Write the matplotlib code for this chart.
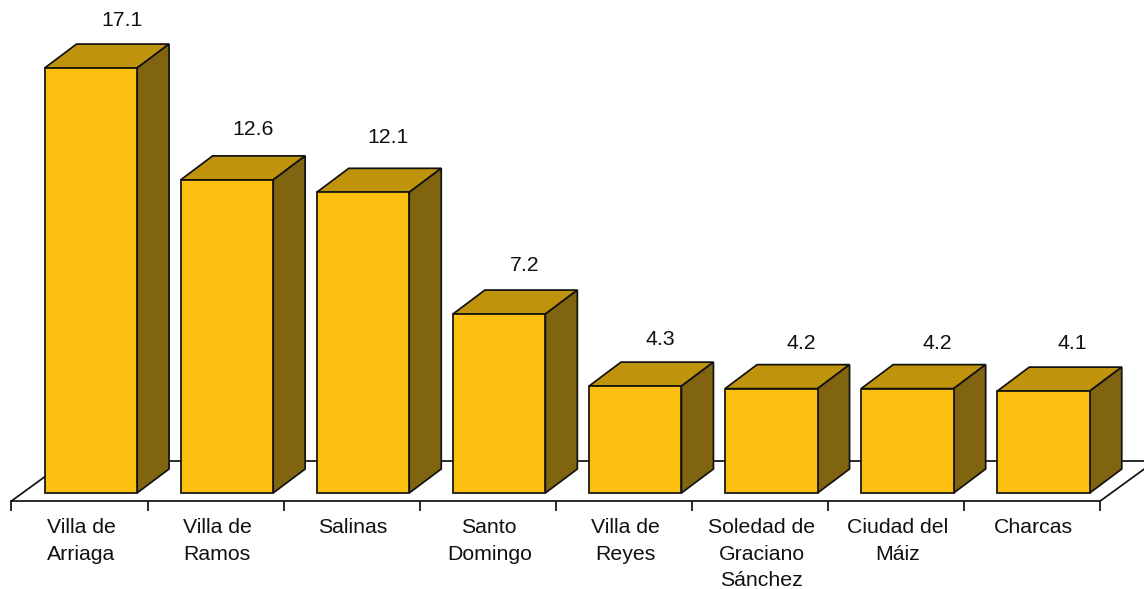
import numpy as np
import matplotlib
matplotlib.use("Agg")
import matplotlib.pyplot as plt
from matplotlib.patches import Polygon

plt.rcParams['font.family'] = ['Liberation Sans', 'DejaVu Sans']

# municipios and their values
municipios = ['Villa de\nArriaga', 'Villa de\nRamos', 'Salinas', 'Santo\nDomingo', 'Villa de\nReyes',
              'Soledad de\nGraciano\nSánchez', 'Ciudad del\nMáiz', 'Charcas']
valores = [17.1, 12.6, 12.1, 7.2, 4.3, 4.2, 4.2, 4.1]

W, H = 1144, 589
step_px = 136.1   # px per category
unit_px = 24.85   # px per unit of value
x0_px = 90.8      # centre of first bar
y0_px = 493       # baseline, from top of image

fig = plt.figure(figsize=(W / 100, H / 100), dpi=100)
ax = fig.add_axes([0, 0, 1, 1])
ax.set_xlim(-x0_px / step_px, (W - x0_px) / step_px)
ax.set_ylim(-(H - y0_px) / unit_px, y0_px / unit_px)
ax.axis('off')

bar_w = 92.5 / step_px
dx = 32 / step_px   # 3d depth
dy = 24 / unit_px
edge = '#111111'
lw = 1.25

# floor
floor_front = -8 / unit_px
floor_back = 32 / unit_px
floor_l = -0.583
floor_r = floor_l + len(valores)
floor_dx = 55 / step_px
ax.plot([floor_l, floor_l + floor_dx], [floor_front, floor_back], color=edge, lw=lw, zorder=1)
ax.plot([floor_l + floor_dx, floor_r + floor_dx], [floor_back, floor_back], color=edge, lw=lw, zorder=1)
ax.plot([floor_r, floor_r + floor_dx], [floor_front, floor_back], color=edge, lw=lw, zorder=1)
ax.plot([floor_l, floor_r], [floor_front, floor_front], color=edge, lw=lw, zorder=1)

# ticks under the floor
ax.vlines(floor_l + np.arange(len(valores) + 1), floor_front - 10 / unit_px, floor_front, color=edge, lw=lw, zorder=1)

# bars, front face then top and side
xs = np.arange(len(valores))
ax.bar(xs, valores, width=bar_w, color='#FDC010', edgecolor=edge, linewidth=lw, zorder=3)
for x, v in zip(xs, valores):
    l, r = x - bar_w / 2, x + bar_w / 2
    ax.add_patch(Polygon([(l, v), (r, v), (r + dx, v + dy), (l + dx, v + dy)],
                         facecolor='#BF930C', edgecolor=edge, lw=lw, zorder=2))
    ax.add_patch(Polygon([(r, 0), (r + dx, dy), (r + dx, v + dy), (r, v)],
                         facecolor='#80640F', edgecolor=edge, lw=lw, zorder=2))

# value labels sit a bit off the bar, not quite evenly
nudge_x = [31, 26, 25, 26, 25, 30, 30, 29]
nudge_y = [48, 50, 55, 49, 47, 45, 45, 48]
for x, v, nx, ny in zip(xs, valores, nudge_x, nudge_y):
    ax.text(x + nx / step_px, v + ny / unit_px, f'{v:.1f}', ha='center', va='center',
            fontsize=15.3, color='#111111')

# category labels
for x, name in zip(xs, municipios):
    ax.text(x - 0.072, -(518 - y0_px) / unit_px, name, ha='center', va='top',
            fontsize=15.3, color='#111111', linespacing=1.5)

plt.savefig('out.png', dpi=100)
